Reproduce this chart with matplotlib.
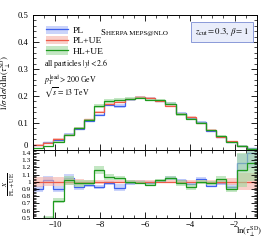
import numpy as np
import matplotlib
matplotlib.use('Agg')
import matplotlib.pyplot as plt
from matplotlib.patches import Patch
from matplotlib.lines import Line2D

plt.rcParams['font.family'] = ['Liberation Serif', 'DejaVu Serif']
plt.rcParams['mathtext.fontset'] = 'stix'

# 22 bins in ln(tau_perp^SD) from -11 to -1
edges = np.linspace(-11, -1, 23)

# PL+UE distribution (reference)
pl_ue = [0.020, 0.027, 0.042, 0.056, 0.082, 0.113, 0.140, 0.170, 0.178, 0.190, 0.196,
         0.193, 0.180, 0.163, 0.135, 0.124, 0.099, 0.075, 0.050, 0.032, 0.013, 0.004]

# ratios to PL+UE
ratio_pl = [0.90, 1.03, 0.90, 1.05, 0.93, 0.96, 0.93, 0.98, 0.92, 0.99, 1.00,
            0.99, 1.01, 1.05, 1.02, 0.97, 1.04, 0.94, 0.98, 0.93, 1.26, 1.40]
ratio_hl = [0.30, 0.50, 0.74, 1.02, 0.98, 0.99, 1.16, 1.07, 1.05, 1.00, 0.99,
            0.96, 1.02, 1.05, 0.98, 0.93, 1.00, 0.98, 1.04, 0.90, 1.16, 1.26]

# relative uncertainties
err_pl_ue = [0.07, 0.06, 0.06, 0.05, 0.04, 0.03, 0.03, 0.02, 0.02, 0.02, 0.02,
             0.02, 0.02, 0.02, 0.02, 0.02, 0.02, 0.02, 0.03, 0.05, 0.12, 0.12]
err_pl = [0.05, 0.05, 0.05, 0.05, 0.04, 0.03, 0.03, 0.03, 0.05, 0.03, 0.02,
          0.02, 0.02, 0.03, 0.02, 0.02, 0.03, 0.02, 0.03, 0.04, 0.10, 0.15]
err_hl = [0.06, 0.06, 0.05, 0.06, 0.05, 0.04, 0.05, 0.04, 0.03, 0.03, 0.02,
          0.02, 0.02, 0.03, 0.04, 0.04, 0.03, 0.03, 0.04, 0.04, 0.20, 0.20]

labels = ['PL', 'PL+UE', 'HL+UE']
line_cols = ['#3f62ee', '#ee5a48', '#1e9a1e']
band_cols = ['#a9b8f7', '#f5b2a8', '#9ed89e']

ref = np.array(pl_ue)
ratios = [np.array(ratio_pl), np.ones(len(ref)), np.array(ratio_hl)]
errs = [np.array(err_pl), np.array(err_pl_ue), np.array(err_hl)]

fig = plt.figure(figsize=(2.66, 2.40), dpi=100)
ax = fig.add_axes([0.124, 0.375, 0.842, 0.5625])
axr = fig.add_axes([0.124, 0.092, 0.842, 0.283], sharex=ax)

for r, e, lc, bc in zip(ratios, errs, line_cols, band_cols):
    vals = ref * r
    ax.stairs(vals * (1 + e), edges, baseline=vals * (1 - e), fill=True,
              color=bc, alpha=0.6, lw=0)
    ax.stairs(vals, edges, color=lc, lw=0.9)
    axr.stairs(r * (1 + e), edges, baseline=r * (1 - e), fill=True,
               color=bc, alpha=0.6, lw=0)
    axr.stairs(r, edges, color=lc, lw=0.9)

fs = 6.2
for a in (ax, axr):
    a.set_xlim(-11, -1)
    a.tick_params(which='both', direction='in', top=True, right=True, labelsize=fs)
    a.tick_params(which='major', length=4, width=0.6)
    a.tick_params(which='minor', length=2, width=0.5)
    for s in a.spines.values():
        s.set_linewidth(0.7)
    a.set_xticks(np.arange(-10, -1, 2))
    a.set_xticks(np.arange(-11, -0.9, 0.5), minor=True)

ax.set_ylim(0, 0.5)
ax.set_yticks(np.arange(0, 0.51, 0.1))
ax.set_yticklabels(['0', '0.1', '0.2', '0.3', '0.4', '0.5'])
ax.set_yticks(np.arange(0, 0.5, 0.02), minor=True)
ax.tick_params(labelbottom=False)
ax.get_yticklabels()[0].set_va('bottom')

axr.set_ylim(0.5, 1.44)
axr.set_yticks(np.arange(0.5, 1.41, 0.1))
axr.set_yticklabels(['0.5', '0.6', '0.7', '0.8', '0.9', '1', '1.1', '1.2', '1.3', '1.4'])
axr.set_yticks(np.arange(0.5, 1.44, 0.02), minor=True)
axr.tick_params(axis='y', labelsize=5.3, pad=1.5)
axr.tick_params(axis='x', pad=2)

ax.set_ylabel(r'$1/\sigma\;\mathrm{d}\sigma/\mathrm{d}\,\ln(\tau_\perp^{\mathrm{SD}})$', fontsize=6.3)
ax.yaxis.set_label_coords(-0.088, 0.5)
axr.set_ylabel(r'$\frac{X}{\mathrm{PL+UE}}$', fontsize=6.5)
axr.yaxis.set_label_coords(-0.078, 0.5)
fig.text(0.985, 0.006, r'$\ln(\tau_\perp^{\mathrm{SD}})$', fontsize=6.2, ha='right', va='bottom')

handles = [(Patch(facecolor=bc, alpha=0.6, lw=0), Line2D([], [], color=lc, lw=0.9))
           for lc, bc in zip(line_cols, band_cols)]
ax.legend(handles, labels, loc='upper left', bbox_to_anchor=(0.04, 0.95), frameon=False,
          fontsize=6.8, handlelength=2.4, handleheight=1.0, labelspacing=0.1,
          handletextpad=0.5, borderaxespad=0)

ax.text(0.05, 0.64, r'all particles $|y| < 2.6$', transform=ax.transAxes, fontsize=5.7, va='center')
ax.text(0.05, 0.515, r'$p_T^{\mathrm{lead}} > 200$ GeV', transform=ax.transAxes, fontsize=5.7, va='center')
ax.text(0.05, 0.43, r'$\sqrt{s} = 13$ TeV', transform=ax.transAxes, fontsize=5.7, va='center')

ax.text(0.30, 0.865, 'S', transform=ax.transAxes, fontsize=6.3, va='center')
ax.text(0.328, 0.865, 'HERPA MEPS@NLO', transform=ax.transAxes, fontsize=5.0, va='center')
ax.text(0.965, 0.875, r'$z_{\mathrm{cut}} = 0.3,\, \beta = 1$', transform=ax.transAxes,
        fontsize=6.3, va='center', ha='right',
        bbox=dict(boxstyle='square,pad=0.45', facecolor='#e9edfa', edgecolor='#8a9ad8', lw=0.7))

fig.savefig('out.png', dpi=100)
